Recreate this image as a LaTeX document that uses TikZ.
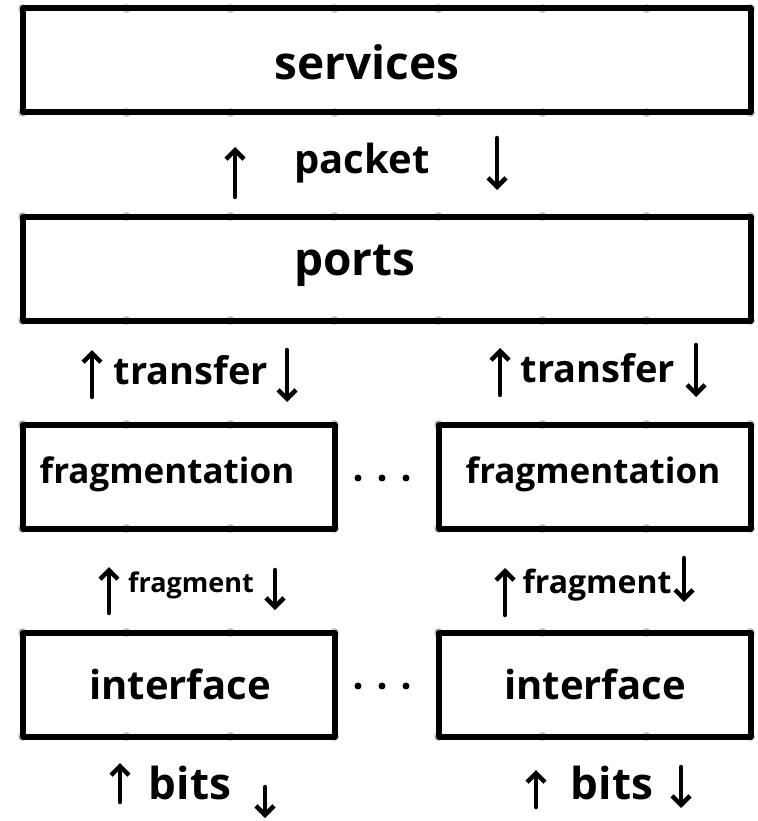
\documentclass[tikz,border=0pt]{standalone}
\usepackage{fontspec}
\setmainfont{Open Sans}
\usetikzlibrary{arrows.meta}
\newcommand{\fsz}[1]{\fontsize{#1}{#1}\selectfont\bfseries}
\begin{document}
\begin{tikzpicture}[x=1pt,y=-1pt,
  gdot/.style={fill=gray!45,draw=none},
  layerbox/.style={draw=black,line width=6pt,line join=round,line cap=round},
  txt/.style={inner sep=0pt},
  flowarrow/.style={line width=4.5pt,line cap=round,-{Straight Barb[length=9pt,width=18pt,line width=4.5pt]}},
  elldot/.style={fill=black,draw=none}]
\useasboundingbox (0,0) rectangle (757,821);
% grid dots
\foreach \c in {0,...,7}{\foreach \r in {0,...,7}{
  \fill[gdot] (22.5+104*\c,8.5+104*\r) circle (4.5);}}
% boxes
\draw[layerbox] (22.5,8.5) rectangle (750.5,112.5);
\draw[layerbox] (22.5,216.5) rectangle (750.5,320.5);
\draw[layerbox] (22.5,424.5) rectangle (334.5,528.5);
\draw[layerbox] (438.5,424.5) rectangle (750.5,528.5);
\draw[layerbox] (22.5,632.5) rectangle (334.5,736.5);
\draw[layerbox] (438.5,632.5) rectangle (750.5,736.5);
% box labels
\node[txt,font=\fsz{46}] (services) at (367,62) {services};
\node[txt,font=\fsz{46}] (ports) at (355,266) {ports};
\node[txt,font=\fsz{35}] (fragL) at (167,474) {fragmentation};
\node[txt,font=\fsz{35}] (fragR) at (593,474) {fragmentation};
\node[txt,font=\fsz{40}] (ifL) at (180,684) {interface};
\node[txt,font=\fsz{40}] (ifR) at (595,684) {interface};
% ellipses
\foreach \y/\n in {478/a,686/b}{
  \fill[elldot] (358,\y) circle (3.5);
  \fill[elldot] (382,\y) circle (3.5);
  \fill[elldot] (406,\y) circle (3.5);}
% flow labels
\node[txt,font=\fsz{40}] (packet) at (362,163) {packet};
\node[txt,font=\fsz{38}] (transL) at (191,370) {transfer};
\node[txt,font=\fsz{38}] (transR) at (598,368) {transfer};
\node[txt,font=\fsz{27}] (fragmL) at (191,585) {fragment};
\node[txt,font=\fsz{32}] (fragmR) at (597,585) {fragment};
\node[txt,font=\fsz{44}] (bitsL) at (190,783) {bits};
\node[txt,font=\fsz{44}] (bitsR) at (612,783) {bits};
% arrow end points
\coordinate (pu1) at (235,197); \coordinate (pu2) at (235,147);
\coordinate (pd1) at (497,138); \coordinate (pd2) at (497,190);
\coordinate (tLu1) at (92,397); \coordinate (tLu2) at (92,350);
\coordinate (tLd1) at (287,350); \coordinate (tLd2) at (287,402);
\coordinate (tRu1) at (500,395); \coordinate (tRu2) at (500,348);
\coordinate (tRd1) at (696,345); \coordinate (tRd2) at (696,397);
\coordinate (fLu1) at (109,613); \coordinate (fLu2) at (109,567);
\coordinate (fLd1) at (275,570); \coordinate (fLd2) at (275,610);
\coordinate (fRu1) at (505,615); \coordinate (fRu2) at (505,568);
\coordinate (fRd1) at (684,558); \coordinate (fRd2) at (684,602);
\coordinate (bLu1) at (120,802); \coordinate (bLu2) at (120,763);
\coordinate (bLd1) at (265,787); \coordinate (bLd2) at (265,818);
\coordinate (bRu1) at (536,807); \coordinate (bRu2) at (536,770);
\coordinate (bRd1) at (681,767); \coordinate (bRd2) at (681,808);
\foreach \a in {pu,pd,tLu,tLd,tRu,tRd,fLu,fLd,fRu,fRd,bLu,bLd,bRu,bRd}{
  \draw[flowarrow] (\a1) -- (\a2);}
\end{tikzpicture}
\end{document}
